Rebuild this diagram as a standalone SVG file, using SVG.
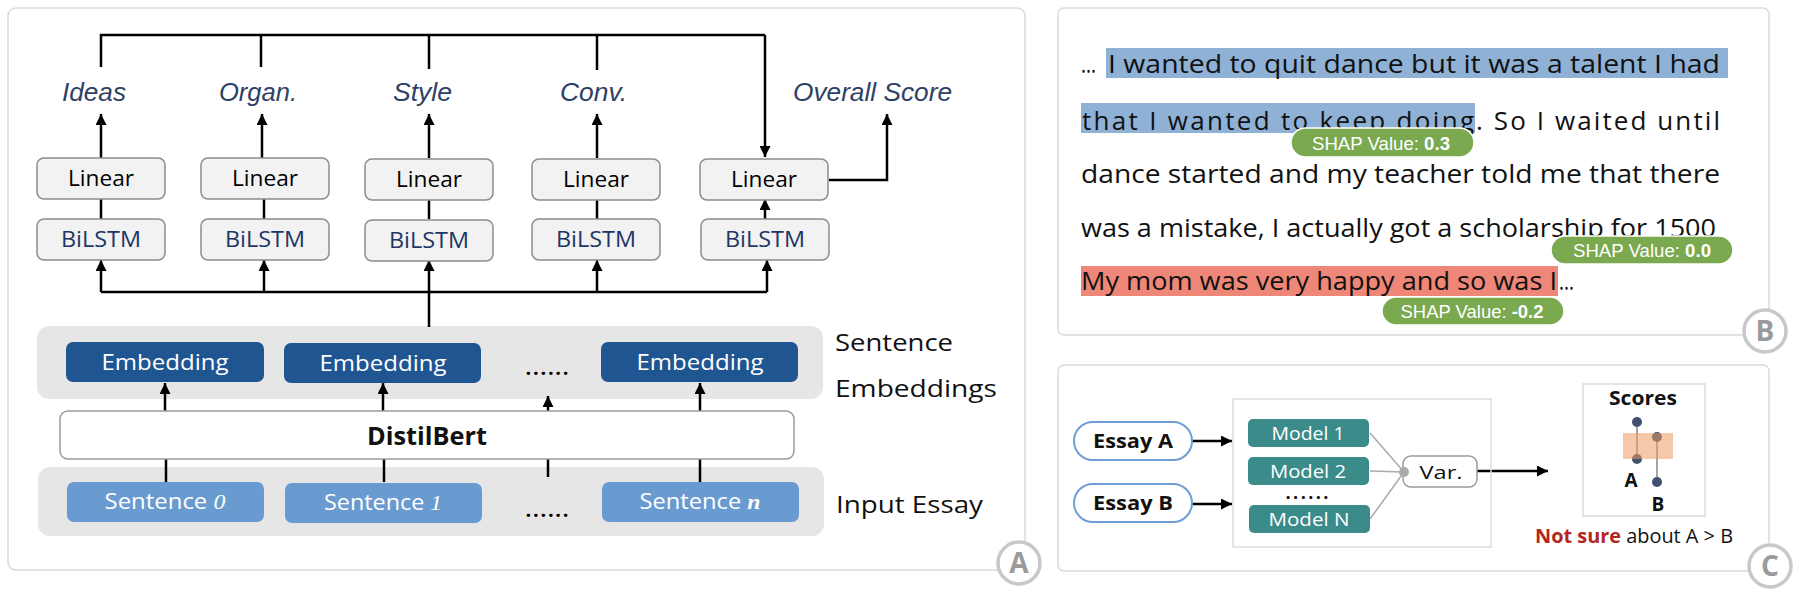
<svg xmlns="http://www.w3.org/2000/svg" width="1798" height="596" viewBox="0 0 1798 596">
<defs>
<marker id="ah" viewBox="0 0 10 10" refX="10" refY="5" markerWidth="11" markerHeight="11" markerUnits="userSpaceOnUse" orient="auto">
<path d="M0,0 L10,5 L0,10 z" fill="#000"/>
</marker>
<style>
.panel{fill:#fff;stroke:#dadada;stroke-width:1.5}
.box{fill:#f2f2f2;stroke:#8c8c8c;stroke-width:1.5}
.grp{fill:#e6e6e6}
.emb{fill:#1f5591}
.sen{fill:#6a9bd0}
.c{stroke:#000;stroke-width:2.5;fill:none}
.ca{stroke:#000;stroke-width:2.5;fill:none;marker-end:url(#ah)}
.sans{font-family:"Open Sans","Liberation Sans",sans-serif}
.mid{text-anchor:middle}
.score{font-family:"Liberation Sans",Arial,sans-serif;font-style:italic;font-size:25px;fill:#2e4165}
.btxt{font-family:"Open Sans","Liberation Sans",sans-serif;font-size:26px;fill:#111}
.pill{fill:#7aa950;stroke:#fff;stroke-width:1.5}
.ptxt{font-family:"Liberation Sans",Arial,sans-serif;font-size:19px;fill:#fff;text-anchor:middle}
.badge{fill:#fff;stroke:#c8c8c8;stroke-width:3.5}
.btxtl{font-family:"Open Sans","Liberation Sans",sans-serif;font-weight:bold;font-size:28px;fill:#9a9a9a;text-anchor:middle}
.model{fill:#3b8b8b}
.gl{stroke:#aaa;stroke-width:1.5;fill:none}
.dot{fill:#3f5170}
</style>
</defs>

<!-- Panel frames -->
<g id="panels">
<rect class="panel" x="8" y="8" width="1017" height="562" rx="8"/>
<rect class="panel" x="1058" y="8" width="711" height="327" rx="6"/>
<rect class="panel" x="1058" y="365" width="711" height="206" rx="6"/>
</g>

<!-- Panel A backgrounds -->
<g id="embedding-group">
<rect class="grp" x="37" y="326" width="786" height="73" rx="12"/>
</g>
<g id="input-group">
<rect class="grp" x="38" y="467" width="786" height="69" rx="12"/>
</g>

<!-- Connectors -->
<g id="connectors">
<path class="c" d="M101,67 V35 H765" stroke-width="3"/>
<path class="ca" d="M765,35 V157" stroke-width="3"/>
<path class="c" d="M261,35 V67" stroke-width="3"/>
<path class="c" d="M429,35 V69" stroke-width="3"/>
<path class="c" d="M597,35 V70" stroke-width="3"/>
<path class="ca" d="M101,158 V114"/>
<path class="ca" d="M262,158 V114"/>
<path class="ca" d="M429,158 V114"/>
<path class="ca" d="M597,158 V114"/>
<path class="ca" d="M829,180 H887 V114"/>
<path class="c" d="M101,199 V219"/>
<path class="c" d="M264,199 V219"/>
<path class="c" d="M429,199 V219"/>
<path class="c" d="M597,199 V219"/>
<path class="ca" d="M765,219 V199"/>
<path class="c" d="M101,292 H767"/>
<path class="ca" d="M101,292 V260"/>
<path class="ca" d="M264,292 V260"/>
<path class="ca" d="M429,292 V260"/>
<path class="ca" d="M597,292 V260"/>
<path class="ca" d="M767,292 V260"/>
<path class="c" d="M429,292 V327" stroke-width="3"/>
<path class="ca" d="M165,411 V383"/>
<path class="ca" d="M383,411 V383"/>
<path class="ca" d="M548,411 V396"/>
<path class="ca" d="M700,411 V383"/>
<path class="c" d="M166,482 V459"/>
<path class="c" d="M384,482 V459"/>
<path class="c" d="M548,477 V459"/>
<path class="c" d="M700,482 V459"/>
<path class="ca" d="M1192,441 H1232"/>
<path class="ca" d="M1192,504 H1232"/>
<path class="gl" d="M1370,433 L1404,472 M1370,471 L1404,472 M1370,519 L1404,472"/>
<path class="ca" d="M1477,471 H1548"/>
</g>

<!-- Score labels -->
<g id="label-ideas"><text class="score" x="62" y="101" textLength="64" lengthAdjust="spacingAndGlyphs">Ideas</text></g>
<g id="label-organ"><text class="score" x="219" y="101" textLength="78" lengthAdjust="spacingAndGlyphs">Organ.</text></g>
<g id="label-style"><text class="score" x="393" y="101" textLength="59" lengthAdjust="spacingAndGlyphs">Style</text></g>
<g id="label-conv"><text class="score" x="560" y="101" textLength="67" lengthAdjust="spacingAndGlyphs">Conv.</text></g>
<g id="label-overall"><text class="score" x="793" y="101" textLength="159" lengthAdjust="spacingAndGlyphs">Overall Score</text></g>

<!-- Linear boxes -->
<g id="linear-1"><rect class="box" x="37" y="158" width="128" height="41" rx="7"/><text class="sans mid" x="101" y="186" font-size="21" textLength="66" lengthAdjust="spacingAndGlyphs">Linear</text></g>
<g id="linear-2"><rect class="box" x="201" y="158" width="128" height="41" rx="7"/><text class="sans mid" x="265" y="186" font-size="21" textLength="66" lengthAdjust="spacingAndGlyphs">Linear</text></g>
<g id="linear-3"><rect class="box" x="365" y="159" width="128" height="41" rx="7"/><text class="sans mid" x="429" y="187" font-size="21" textLength="66" lengthAdjust="spacingAndGlyphs">Linear</text></g>
<g id="linear-4"><rect class="box" x="532" y="159" width="128" height="41" rx="7"/><text class="sans mid" x="596" y="187" font-size="21" textLength="66" lengthAdjust="spacingAndGlyphs">Linear</text></g>
<g id="linear-5"><rect class="box" x="700" y="159" width="128" height="41" rx="7"/><text class="sans mid" x="764" y="187" font-size="21" textLength="66" lengthAdjust="spacingAndGlyphs">Linear</text></g>

<!-- BiLSTM boxes -->
<g id="bilstm-1"><rect class="box" x="37" y="219" width="128" height="41" rx="7"/><text class="sans mid" x="101" y="247" font-size="21" fill="#1c3766" textLength="80" lengthAdjust="spacingAndGlyphs">BiLSTM</text></g>
<g id="bilstm-2"><rect class="box" x="201" y="219" width="128" height="41" rx="7"/><text class="sans mid" x="265" y="247" font-size="21" fill="#1c3766" textLength="80" lengthAdjust="spacingAndGlyphs">BiLSTM</text></g>
<g id="bilstm-3"><rect class="box" x="365" y="220" width="128" height="41" rx="7"/><text class="sans mid" x="429" y="248" font-size="21" fill="#1c3766" textLength="80" lengthAdjust="spacingAndGlyphs">BiLSTM</text></g>
<g id="bilstm-4"><rect class="box" x="532" y="219" width="128" height="41" rx="7"/><text class="sans mid" x="596" y="247" font-size="21" fill="#1c3766" textLength="80" lengthAdjust="spacingAndGlyphs">BiLSTM</text></g>
<g id="bilstm-5"><rect class="box" x="701" y="219" width="128" height="41" rx="7"/><text class="sans mid" x="765" y="247" font-size="21" fill="#1c3766" textLength="80" lengthAdjust="spacingAndGlyphs">BiLSTM</text></g>

<!-- Embedding boxes -->
<g id="embedding-1"><rect class="emb" x="66" y="342" width="198" height="40" rx="7"/><text class="sans mid" x="165" y="370" font-size="21" fill="#fff" textLength="127" lengthAdjust="spacingAndGlyphs">Embedding</text></g>
<g id="embedding-2"><rect class="emb" x="284" y="343" width="197" height="40" rx="7"/><text class="sans mid" x="383" y="371" font-size="21" fill="#fff" textLength="127" lengthAdjust="spacingAndGlyphs">Embedding</text></g>
<g id="embedding-n"><rect class="emb" x="601" y="342" width="197" height="40" rx="7"/><text class="sans mid" x="700" y="370" font-size="21" fill="#fff" textLength="127" lengthAdjust="spacingAndGlyphs">Embedding</text></g>
<g id="dots-emb"><text class="sans mid" x="547" y="375" font-size="20" font-weight="bold" textLength="43" lengthAdjust="spacing">......</text></g>

<!-- DistilBert -->
<g id="distilbert"><rect x="60" y="411" width="734" height="48" rx="8" fill="#fff" stroke="#9a9a9a" stroke-width="1.5"/><text class="sans mid" x="427" y="445" font-size="25" font-weight="bold" fill="#111" textLength="120" lengthAdjust="spacingAndGlyphs">DistilBert</text></g>

<!-- Sentence boxes -->
<g id="sentence-0"><rect class="sen" x="67" y="482" width="197" height="40" rx="7"/><text class="sans mid" x="165" y="509" font-size="21" fill="#fff" textLength="121" lengthAdjust="spacingAndGlyphs">Sentence <tspan font-family="'Liberation Serif',serif" font-style="italic">0</tspan></text></g>
<g id="sentence-1"><rect class="sen" x="285" y="483" width="197" height="40" rx="7"/><text class="sans mid" x="383" y="510" font-size="21" fill="#fff" textLength="118" lengthAdjust="spacingAndGlyphs">Sentence <tspan font-family="'Liberation Serif',serif" font-style="italic">1</tspan></text></g>
<g id="sentence-n"><rect class="sen" x="602" y="482" width="197" height="40" rx="7"/><text class="sans mid" x="700" y="509" font-size="21" fill="#fff" textLength="121" lengthAdjust="spacingAndGlyphs">Sentence <tspan font-family="'Liberation Serif',serif" font-style="italic" font-weight="bold">n</tspan></text></g>
<g id="dots-sen"><text class="sans mid" x="547" y="517" font-size="20" font-weight="bold" textLength="43" lengthAdjust="spacing">......</text></g>

<!-- Right-side labels A -->
<g id="label-sentence-embeddings">
<text class="sans" x="835" y="351" font-size="24" fill="#111" textLength="118" lengthAdjust="spacingAndGlyphs">Sentence</text>
<text class="sans" x="835" y="397" font-size="24" fill="#111" textLength="162" lengthAdjust="spacingAndGlyphs">Embeddings</text>
</g>
<g id="label-input-essay"><text class="sans" x="836" y="513" font-size="24" fill="#111" textLength="147" lengthAdjust="spacingAndGlyphs">Input Essay</text></g>

<!-- Panel B -->
<g id="essay-text">
<rect x="1106" y="48" width="622" height="30" fill="#8fb1d6"/>
<rect x="1081" y="103" width="394" height="30" fill="#8fb1d6"/>
<rect x="1081" y="266" width="477" height="30" fill="#ee8778"/>
<text class="btxt" x="1081" y="73" textLength="15" lengthAdjust="spacingAndGlyphs">...</text>
<text class="btxt" x="1108" y="73" textLength="612" lengthAdjust="spacingAndGlyphs">I wanted to quit dance but it was a talent I had</text>
<text class="btxt" x="1082" y="130" textLength="392" lengthAdjust="spacing">that I wanted to keep doing</text>
<text class="btxt" x="1476" y="130" textLength="244" lengthAdjust="spacing">. So I waited until</text>
<text class="btxt" x="1081" y="183" textLength="639" lengthAdjust="spacingAndGlyphs">dance started and my teacher told me that there</text>
<text class="btxt" x="1081" y="237" textLength="635" lengthAdjust="spacingAndGlyphs">was a mistake, I actually got a scholarship for 1500</text>
<text class="btxt" x="1081" y="290" textLength="476" lengthAdjust="spacingAndGlyphs">My mom was very happy and so was I</text>
<text class="btxt" x="1559" y="290" textLength="15" lengthAdjust="spacingAndGlyphs">...</text>
</g>
<g id="shap-1"><rect class="pill" x="1291" y="128" width="183" height="29" rx="14.5"/><text class="ptxt" x="1381" y="150" textLength="138" lengthAdjust="spacingAndGlyphs">SHAP Value: <tspan font-weight="bold">0.3</tspan></text></g>
<g id="shap-2"><rect class="pill" x="1551" y="236" width="182" height="28" rx="14"/><text class="ptxt" x="1642" y="257" textLength="138" lengthAdjust="spacingAndGlyphs">SHAP Value: <tspan font-weight="bold">0.0</tspan></text></g>
<g id="shap-3"><rect class="pill" x="1382" y="297" width="182" height="28" rx="14"/><text class="ptxt" x="1472" y="318" textLength="143" lengthAdjust="spacingAndGlyphs">SHAP Value: <tspan font-weight="bold">-0.2</tspan></text></g>

<!-- Panel C -->
<g id="essay-a"><rect x="1074" y="422" width="118" height="38" rx="19" fill="#fff" stroke="#6f9fd4" stroke-width="2"/><text class="sans mid" x="1133" y="448" font-size="20" font-weight="bold" fill="#111" textLength="80" lengthAdjust="spacingAndGlyphs">Essay A</text></g>
<g id="essay-b"><rect x="1074" y="484" width="118" height="38" rx="19" fill="#fff" stroke="#6f9fd4" stroke-width="2"/><text class="sans mid" x="1133" y="510" font-size="20" font-weight="bold" fill="#111" textLength="80" lengthAdjust="spacingAndGlyphs">Essay B</text></g>
<g id="models">
<rect x="1233" y="399" width="258" height="148" fill="none" stroke="#dcdcdc" stroke-width="1.5"/>
<rect class="model" x="1248" y="419" width="121" height="28" rx="5"/><text class="sans mid" x="1308" y="440" font-size="19" fill="#fff" textLength="73" lengthAdjust="spacingAndGlyphs">Model 1</text>
<rect class="model" x="1248" y="457" width="121" height="28" rx="5"/><text class="sans mid" x="1308" y="478" font-size="19" fill="#fff" textLength="76" lengthAdjust="spacingAndGlyphs">Model 2</text>
<text class="sans mid" x="1307" y="499" font-size="18" font-weight="bold" fill="#111" textLength="43" lengthAdjust="spacing">......</text>
<rect class="model" x="1249" y="505" width="121" height="28" rx="5"/><text class="sans mid" x="1309" y="526" font-size="19" fill="#fff" textLength="81" lengthAdjust="spacingAndGlyphs">Model N</text>
</g>
<g id="var"><rect x="1403" y="456" width="74" height="31" rx="8" fill="#fff" stroke="#9a9a9a" stroke-width="1.5"/><circle cx="1404" cy="472" r="5" fill="#aaa"/><text class="sans mid" x="1441" y="479" font-size="19" fill="#111" textLength="43" lengthAdjust="spacingAndGlyphs">Var.</text></g>
<g id="scores">
<rect x="1583" y="384" width="122" height="132" fill="#fff" stroke="#dcdcdc" stroke-width="1.5"/>
<text class="sans mid" x="1643" y="405" font-size="20" font-weight="bold" fill="#111" textLength="68" lengthAdjust="spacingAndGlyphs">Scores</text>
<path d="M1637,422 V459 M1657,437 V482" stroke="#888" stroke-width="1.5"/>
<circle class="dot" cx="1637" cy="422" r="5"/>
<circle class="dot" cx="1637" cy="459" r="5"/>
<circle class="dot" cx="1657" cy="437" r="5"/>
<circle class="dot" cx="1657" cy="482" r="5"/>
<rect x="1623" y="433" width="50" height="26" fill="#eb9a63" opacity="0.55"/>
<text class="sans mid" x="1631" y="487" font-size="19" font-weight="bold" fill="#111">A</text>
<text class="sans mid" x="1658" y="511" font-size="19" font-weight="bold" fill="#111">B</text>
<text class="sans" x="1535" y="543" font-size="20" fill="#111" textLength="198" lengthAdjust="spacingAndGlyphs"><tspan font-weight="bold" fill="#b3261e">Not sure</tspan> about A &gt; B</text>
</g>

<!-- Panel badges -->
<g id="badge-a"><circle class="badge" cx="1019" cy="563" r="21"/><text class="btxtl" x="1019" y="573">A</text></g>
<g id="badge-b"><circle class="badge" cx="1765" cy="331" r="21"/><text class="btxtl" x="1765" y="341">B</text></g>
<g id="badge-c"><circle class="badge" cx="1770" cy="566" r="21"/><text class="btxtl" x="1770" y="576">C</text></g>
</svg>
